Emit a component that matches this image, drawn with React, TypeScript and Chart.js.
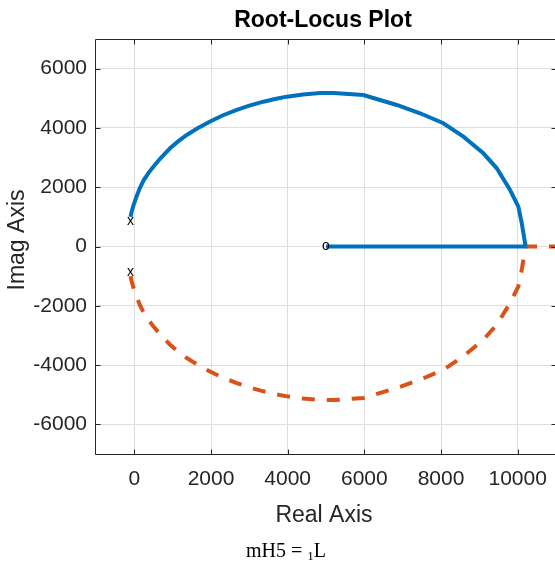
import React, { useEffect, useRef } from "react";
import { Chart, registerables } from "chart.js";

Chart.register(...registerables);

// Tick values
const xTickValues = [0, 2000, 4000, 6000, 8000, 10000];
const yTickValues = [-6000, -4000, -2000, 0, 2000, 4000, 6000];

// Branch 1 (solid blue): upper pole -> arc -> breakaway -> zero
const branch1Real = [-100, -70, -20, 50, 149, 250, 380, 496, 700, 932, 1150, 1368, 1650, 1976, 2300, 2672, 3000, 3368, 3700, 3979, 4400, 4849, 5200, 5975, 6846, 7454, 8062, 8584, 9105, 9455, 9802, 10018, 10107, 10193, 10200, 5000];
const branch1Imag = [1000, 1174, 1400, 1660, 1990, 2250, 2500, 2692, 3000, 3313, 3553, 3762, 3990, 4220, 4420, 4610, 4750, 4885, 4985, 5055, 5130, 5175, 5180, 5111, 4774, 4494, 4157, 3705, 3144, 2638, 1906, 1343, 783, 108, 0, 0];

// Branch 2 (dashed orange): lower pole -> arc -> breakaway -> +infinity along real axis
const branch2Real = [-100, -70, -20, 50, 149, 250, 380, 496, 700, 932, 1150, 1368, 1650, 1976, 2300, 2672, 3000, 3368, 3700, 3979, 4400, 4849, 5200, 5975, 6846, 7454, 8062, 8584, 9105, 9455, 9802, 10018, 10107, 10193, 10200, 12000];
const branch2Imag = [-1000, -1174, -1400, -1660, -1990, -2250, -2500, -2692, -3000, -3313, -3553, -3762, -3990, -4220, -4420, -4610, -4750, -4885, -4985, -5055, -5130, -5175, -5180, -5111, -4774, -4494, -4157, -3705, -3144, -2638, -1906, -1343, -783, -108, 0, 0];

// Open-loop poles and zeros
const polesReal = [-100, -100];
const polesImag = [870, -870];
const zerosReal = [5000];
const zerosImag = [0];

const FONT = '"Liberation Sans", Arial, Helvetica, sans-serif';

const framePlugin = {
  id: "rlFrame",
  afterDatasetsDraw(chart: any) {
    const { ctx, chartArea: a, scales } = chart;
    const xs = scales.x;
    const ys = scales.y;
    ctx.save();
    // markers
    ctx.fillStyle = "#000000";
    ctx.font = `14px ${FONT}`;
    ctx.textAlign = "center";
    ctx.textBaseline = "middle";
    polesReal.forEach((r, i) => {
      ctx.fillText("x", xs.getPixelForValue(r), ys.getPixelForValue(polesImag[i]));
    });
    zerosReal.forEach((r, i) => {
      ctx.fillText("o", xs.getPixelForValue(r), ys.getPixelForValue(zerosImag[i]));
    });

    // frame
    ctx.strokeStyle = "#262626";
    ctx.lineWidth = 1;
    const L = Math.round(a.left) - 0.5;
    const T = Math.round(a.top) + 0.5;
    const B = Math.round(a.bottom) + 0.5;
    const R = Math.round(a.right) + 0.5;
    ctx.beginPath();
    ctx.moveTo(L, T);
    ctx.lineTo(R, T);
    ctx.lineTo(R, B);
    ctx.lineTo(L, B);
    ctx.closePath();
    ctx.stroke();
    // inward ticks
    const tl = 5;
    ctx.beginPath();
    xTickValues.forEach((v) => {
      const px = Math.round(xs.getPixelForValue(v)) + 0.5;
      ctx.moveTo(px, B);
      ctx.lineTo(px, B - tl);
      ctx.moveTo(px, T);
      ctx.lineTo(px, T + tl);
    });
    yTickValues.forEach((v) => {
      const py = Math.round(ys.getPixelForValue(v)) + 0.5;
      ctx.moveTo(L, py);
      ctx.lineTo(L + tl, py);
      ctx.moveTo(R, py);
      ctx.lineTo(R - tl, py);
    });
    ctx.stroke();
    ctx.restore();
  },
  afterDraw(chart: any) {
    const { ctx } = chart;
    ctx.save();
    ctx.textAlign = "center";
    ctx.textBaseline = "alphabetic";
    ctx.fillStyle = "#000000";
    ctx.font = `bold 23px ${FONT}`;
    ctx.fillText("Root-Locus Plot", 323, 27);
    ctx.fillStyle = "#262626";
    ctx.font = `23px ${FONT}`;
    ctx.fillText("Real Axis", 324, 522);
    ctx.translate(24, 240);
    ctx.rotate(-Math.PI / 2);
    ctx.fillText("Imag Axis", 0, 0);
    ctx.restore();
  },
};

export default function App() {
  const canvasRef = useRef<HTMLCanvasElement | null>(null);

  useEffect(() => {
    if (!canvasRef.current) return;
    const blueData = branch1Real.map((r, i) => ({ x: r, y: branch1Imag[i] }));
    const orangeData = branch2Real.map((r, i) => ({ x: r, y: branch2Imag[i] }));
    const tickFont = { family: FONT, size: 21 };
    const gridColor = "#dedede";
    const chart = new Chart(canvasRef.current, {
      type: "scatter",
      data: {
        datasets: [
          {
            label: "Branch 1",
            data: blueData,
            showLine: true,
            borderColor: "#0072BD",
            backgroundColor: "#0072BD",
            borderWidth: 4,
            pointRadius: 0,
            pointHoverRadius: 0,
            tension: 0,
          },
          {
            label: "Branch 2",
            data: orangeData,
            showLine: true,
            borderColor: "#D95319",
            backgroundColor: "#D95319",
            borderWidth: 4,
            borderDash: [13, 12],
            pointRadius: 0,
            pointHoverRadius: 0,
            tension: 0,
          },
        ],
      },
      options: {
        animation: false,
        responsive: false,
        devicePixelRatio: 1,
        layout: { padding: { top: 39, left: 0, right: 6, bottom: 0 } },
        plugins: {
          legend: { display: false },
          title: { display: false },
          tooltip: { enabled: false },
        },
        scales: {
          x: {
            type: "linear",
            min: -1000,
            max: 11000,
            afterBuildTicks: (s: any) => {
              s.ticks = xTickValues.map((v) => ({ value: v }));
            },
            afterFit: (s: any) => {
              s.height = 107;
            },
            grid: { color: gridColor, drawTicks: false, lineWidth: 1 },
            border: { display: false },
            ticks: {
              font: tickFont,
              color: "#262626",
              padding: 13,
              maxRotation: 0,
              autoSkip: false,
              callback: (v: any) => String(v),
            },
          },
          y: {
            type: "linear",
            min: -7000,
            max: 7000,
            afterBuildTicks: (s: any) => {
              s.ticks = yTickValues.map((v) => ({ value: v }));
            },
            afterFit: (s: any) => {
              s.width = 96;
            },
            grid: { color: gridColor, drawTicks: false, lineWidth: 1 },
            border: { display: false },
            ticks: {
              font: tickFont,
              color: "#262626",
              padding: 9,
              autoSkip: false,
              callback: (v: any) => String(v),
            },
          },
        },
      },
      plugins: [framePlugin],
    });
    return () => chart.destroy();
  }, []);

  return (
    <div
      style={{
        position: "absolute",
        left: 0,
        top: 0,
        width: 555,
        height: 561,
        overflow: "hidden",
        background: "#ffffff",
      }}
    >
      <canvas ref={canvasRef} width={562} height={561} style={{ display: "block" }} />
      <div
        style={{
          position: "absolute",
          left: 246,
          top: 540,
          fontFamily: '"Liberation Serif", "Times New Roman", serif',
          fontSize: 20,
          lineHeight: "20px",
          whiteSpace: "pre",
          color: "#000000",
        }}
      >
        {"mH5 = "}
        <span style={{ fontSize: 13, verticalAlign: "-3px", lineHeight: "13px" }}>1</span>
        {"L"}
      </div>
    </div>
  );
}
